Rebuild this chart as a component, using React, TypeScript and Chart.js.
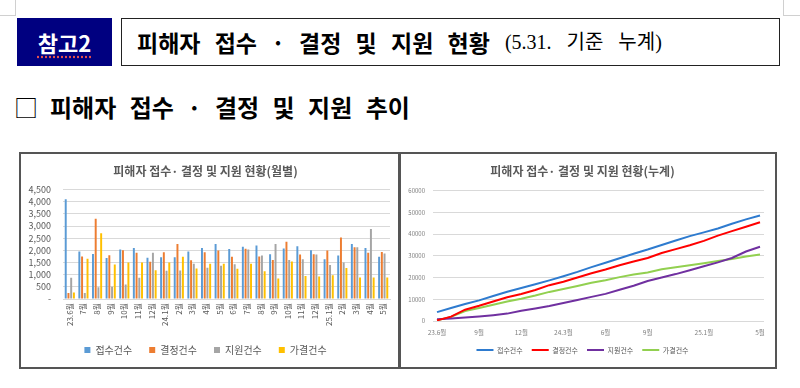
import React, { useEffect, useRef } from 'react';
import { Chart, registerables } from 'chart.js';

Chart.register(...registerables);

const FONT = "'Noto Sans CJK KR', 'Noto Sans', sans-serif";

// Monthly (bar chart) categories
const categories = [
  '23.6월', '7월', '8월', '9월', '10월', '11월', '12월', '24.1월', '2월', '3월', '4월', '5월',
  '6월', '7월', '8월', '9월', '10월', '11월', '12월', '25.1월', '2월', '3월', '4월', '5월',
];

// Monthly values
const monthlyReceipts = [4100, 1950, 1850, 1680, 2030, 2100, 1700, 1720, 1720, 1950, 2100, 2260, 2050, 2150, 2200, 1840, 2080, 2170, 2000, 1630, 1790, 2260, 2100, 1740];
const monthlyDecisions = [250, 1750, 3300, 1800, 2000, 1900, 1530, 1920, 2260, 1590, 1920, 1990, 1740, 2070, 1750, 1600, 2350, 1830, 1840, 1990, 2530, 2130, 1900, 1930];
const monthlySupport = [870, 250, 480, 500, 600, 870, 1900, 1160, 1170, 1450, 1280, 1370, 1430, 2030, 1790, 2260, 1600, 1630, 1830, 1400, 1500, 2130, 2880, 1870];
const monthlyApproved = [270, 1650, 2700, 1420, 1500, 1500, 1180, 1500, 1740, 1250, 1450, 1450, 1240, 1450, 1140, 840, 1540, 950, 920, 980, 1270, 880, 880, 880];

// Cumulative (line chart) values
const cumReceipts = [4100, 6000, 7800, 9500, 11500, 13500, 15200, 16900, 18700, 20600, 22600, 24800, 26800, 28900, 31000, 32900, 35000, 37100, 39100, 40800, 42600, 44800, 46800, 48600];
const cumDecisions = [300, 2000, 5200, 7000, 9000, 10900, 12400, 14300, 16500, 18100, 20000, 22000, 23700, 25700, 27400, 29000, 31300, 33100, 34900, 36900, 39300, 41400, 43400, 45500];
const cumSupport = [850, 1100, 1600, 2100, 2700, 3400, 4700, 5800, 6900, 8300, 9700, 11100, 12500, 14400, 16200, 18400, 20000, 21600, 23400, 25200, 27000, 29000, 32000, 34200];
const cumApproved = [300, 1900, 4600, 6000, 7500, 9000, 10200, 11700, 13400, 14700, 16100, 17600, 18800, 20200, 21400, 22300, 23800, 24700, 25700, 26600, 27600, 28600, 29700, 30600];

// Line chart tick labels (positions are month indexes)
const lineTickIdx = [0, 3, 6, 9, 12, 15, 19, 23];
const lineTickLabels = ['23.6월', '9월', '12월', '24.3월', '6월', '9월', '25.1월', '5월'];

const seriesNames = ['접수건수', '결정건수', '지원건수', '가결건수'];

function MonthlyChart() {
  const ref = useRef<HTMLCanvasElement | null>(null);
  useEffect(() => {
    if (!ref.current) return;
    const colors = ['#5b9bd5', '#ed7d31', '#a5a5a5', '#ffc000'];
    const values = [monthlyReceipts, monthlyDecisions, monthlySupport, monthlyApproved];
    const chart = new Chart(ref.current, {
      type: 'bar',
      data: {
        labels: categories,
        datasets: values.map((d, i) => ({
          label: seriesNames[i],
          data: d,
          backgroundColor: colors[i],
          borderWidth: 0,
          categoryPercentage: 0.8,
          barPercentage: 0.72,
        })),
      },
      options: {
        responsive: false,
        animation: false,
        layout: { padding: { left: 0, right: 8, top: 0, bottom: 2 } },
        plugins: {
          title: {
            display: true,
            text: '피해자 접수· 결정 및 지원 현황(월별)',
            color: '#595959',
            font: { family: FONT, size: 12, weight: 'bold' },
            padding: { top: 10.5, bottom: 10.6 },
          },
          legend: {
            position: 'bottom',
            labels: {
              boxWidth: 6,
              boxHeight: 6,
              padding: 17,
              color: '#595959',
              font: { family: FONT, size: 10 },
            },
          },
          tooltip: { enabled: false },
        },
        scales: {
          x: {
            grid: { display: false, drawTicks: false },
            border: { display: true, color: '#d9d9d9' },
            ticks: {
              autoSkip: false,
              minRotation: 90,
              maxRotation: 90,
              padding: 4,
              color: '#595959',
              font: { family: FONT, size: 8 },
            },
            afterFit: (s: any) => { s.height = 29; },
          },
          y: {
            min: 0,
            max: 4500,
            ticks: {
              stepSize: 500,
              autoSkip: false,
              padding: 12,
              color: '#595959',
              font: { family: FONT, size: 9 },
              callback: (v: any) => (Number(v) === 0 ? '-' : Number(v).toLocaleString('en-US')),
            },
            grid: { color: '#d9d9d9', drawTicks: false },
            border: { display: false },
            afterFit: (s: any) => { s.width = 42; },
          },
        },
      } as any,
    });
    return () => chart.destroy();
  }, []);
  return <canvas ref={ref} width={377} height={213} style={{ display: 'block', width: 377, height: 213 }} />;
}

function CumulativeChart() {
  const ref = useRef<HTMLCanvasElement | null>(null);
  useEffect(() => {
    if (!ref.current) return;
    const colors = ['#2e7bcf', '#ff0000', '#7030a0', '#92d050'];
    const values = [cumReceipts, cumDecisions, cumSupport, cumApproved];
    const chart = new Chart(ref.current, {
      type: 'line',
      data: {
        datasets: values.map((d, i) => ({
          label: seriesNames[i],
          data: d.map((v, k) => ({ x: k, y: v })),
          borderColor: colors[i],
          backgroundColor: colors[i],
          borderWidth: 2,
          pointRadius: 0,
          tension: 0,
        })),
      },
      options: {
        responsive: false,
        animation: false,
        layout: { padding: { left: 0, right: 11, top: 0, bottom: 3.5 } },
        plugins: {
          title: {
            display: true,
            text: '피해자 접수· 결정 및 지원 현황(누계)',
            color: '#595959',
            font: { family: FONT, size: 12, weight: 'bold' },
            padding: { top: 10.5, bottom: 11.8 },
          },
          legend: {
            position: 'bottom',
            labels: {
              usePointStyle: true,
              pointStyle: 'line',
              pointStyleWidth: 17,
              boxHeight: 7,
              padding: 9,
              color: '#595959',
              font: { family: FONT, size: 7 },
            },
          },
          tooltip: { enabled: false },
        },
        scales: {
          x: {
            type: 'linear',
            min: -0.285,
            max: 23.285,
            afterBuildTicks: (s: any) => { s.ticks = lineTickIdx.map((v) => ({ value: v })); },
            ticks: {
              autoSkip: false,
              maxRotation: 0,
              padding: 8,
              color: '#7f7f7f',
              font: { family: FONT, size: 6.5 },
              callback: (_v: any, idx: number) => lineTickLabels[idx] ?? '',
            },
            grid: { display: false, drawTicks: false },
            border: { display: false },
            afterFit: (s: any) => { s.height = 16.5; },
          },
          y: {
            min: 0,
            max: 60000,
            ticks: {
              stepSize: 10000,
              autoSkip: false,
              padding: 8,
              color: '#7f7f7f',
              font: { family: FONT, size: 6 },
              callback: (v: any) => String(v),
            },
            grid: { color: '#d9d9d9', drawTicks: false },
            border: { display: false },
            afterFit: (s: any) => { s.width = 32; },
          },
        },
      } as any,
    });
    return () => chart.destroy();
  }, []);
  return <canvas ref={ref} width={374} height={213} style={{ display: 'block', width: 374, height: 213 }} />;
}

export default function App() {
  return (
    <div style={{ position: 'absolute', left: 0, top: 0, width: 800, height: 388, background: '#fff', overflow: 'hidden', fontFamily: FONT, color: '#000' }}>
      {/* page corner marks */}
      <div style={{ position: 'absolute', left: 0, top: 0, width: 15, height: 15, borderRight: '1px solid #d0d0d0', borderBottom: '1px solid #d0d0d0' }} />
      <div style={{ position: 'absolute', left: 783, top: 0, width: 17, height: 15, borderLeft: '1px solid #d0d0d0', borderBottom: '1px solid #d0d0d0' }} />

      {/* 참고2 badge */}
      <div style={{ position: 'absolute', left: 17, top: 18, width: 95, height: 48, background: '#000080', color: '#fff', display: 'flex', alignItems: 'center', justifyContent: 'center', fontWeight: 700, fontSize: 22, lineHeight: 1 }}>
        <span style={{ textDecoration: 'underline dotted #e05050', textUnderlineOffset: 4 }}>참고2</span>
      </div>

      {/* title box */}
      <div style={{ position: 'absolute', left: 121, top: 18, width: 659, height: 48, boxSizing: 'border-box', border: '1px solid #222', display: 'flex', alignItems: 'center', paddingLeft: 15, lineHeight: 1, whiteSpace: 'nowrap' }}>
        <span style={{ fontWeight: 700, fontSize: 23, wordSpacing: 9 }}>피해자 접수 · 결정 및 지원 현황</span>
        <span style={{ fontFamily: "'Liberation Serif', 'Noto Sans CJK KR', serif", fontSize: 20, marginLeft: 15, wordSpacing: 10 }}>(5.31. 기준 누계)</span>
      </div>

      {/* heading */}
      <div style={{ position: 'absolute', left: 14, top: 93, height: 28, display: 'flex', alignItems: 'center', lineHeight: 1, whiteSpace: 'nowrap' }}>
        <span style={{ fontSize: 24, fontWeight: 400 }}>□</span>
        <span style={{ fontSize: 24, fontWeight: 700, marginLeft: 12, wordSpacing: 8 }}>피해자 접수 · 결정 및 지원 추이</span>
      </div>

      {/* left chart */}
      <div style={{ position: 'absolute', left: 19, top: 152, width: 381, height: 217, boxSizing: 'border-box', border: '2px solid #555' }}>
        <MonthlyChart />
      </div>

      {/* right chart */}
      <div style={{ position: 'absolute', left: 399, top: 152, width: 378, height: 217, boxSizing: 'border-box', border: '2px solid #555' }}>
        <CumulativeChart />
      </div>
    </div>
  );
}
